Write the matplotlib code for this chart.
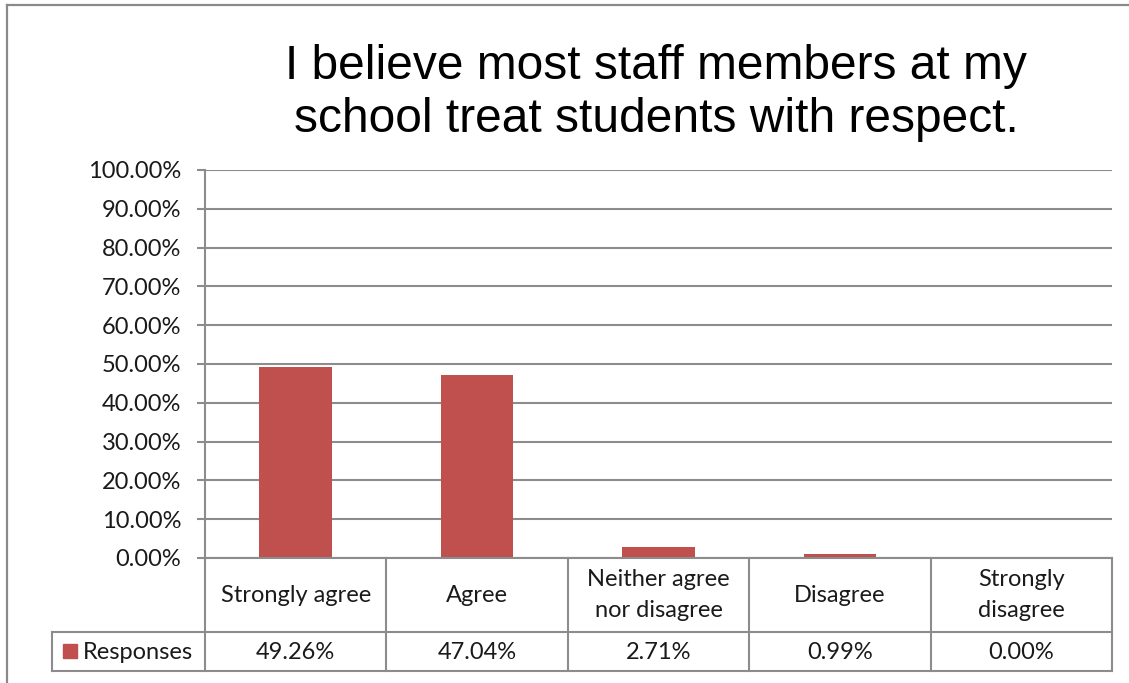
import matplotlib
matplotlib.use("Agg")
import matplotlib.pyplot as plt
from matplotlib.lines import Line2D
from matplotlib.patches import Rectangle

categories = ["Strongly agree", "Agree", "Neither agree\nnor disagree", "Disagree", "Strongly\ndisagree"]
values = [49.26, 47.04, 2.71, 0.99, 0.00]
series_name = "Responses"
yticks = [0, 10, 20, 30, 40, 50, 60, 70, 80, 90, 100]
title = "I believe most staff members at my\nschool treat students with respect."

W, H = 1129, 683
DPI = 100
fig = plt.figure(figsize=(W / DPI, H / DPI), dpi=DPI)
fig.patch.set_facecolor("white")

BAR = "#C0504D"
GRID = "#8C8C8C"
TXT = "#1a1a1a"
tick_font = "Lato"
FS = 17

def fx(px):
    return px / W

def fy(py):
    return 1 - py / H

# outer chart border (cropped at right/bottom)
fig.add_artist(Line2D([fx(7), fx(7)], [fy(5), fy(683)], color="#8a8a8a", lw=1.6, transform=fig.transFigure))
fig.add_artist(Line2D([fx(7), fx(1129)], [fy(5), fy(5)], color="#8a8a8a", lw=1.6, transform=fig.transFigure))

left, right, top, bottom = 205, 1112, 170, 558
ax = fig.add_axes([fx(left), fy(bottom), fx(right - left), (bottom - top) / H])
n = len(categories)
x = list(range(n))
ax.bar(x, values, width=0.40, color=BAR, zorder=3)
ax.set_xlim(-0.5, n - 0.5)
ax.set_ylim(0, 100)
ax.set_yticks(yticks)
ax.set_yticklabels([f"{v:.2f}%" for v in yticks], fontsize=FS, family=tick_font, color=TXT)
ax.tick_params(axis="y", direction="out", length=6, width=1.5, color=GRID, pad=11)
ax.set_xticks([])
for s in ["top", "right", "bottom"]:
    ax.spines[s].set_visible(False)
ax.spines["left"].set_color(GRID)
ax.spines["left"].set_linewidth(1.5)
ax.yaxis.grid(True, color=GRID, lw=1.5, zorder=0)
ax.set_axisbelow(True)

# title
fig.text(fx(656), fy(93), title, ha="center", va="center", fontsize=34.5,
         family="Liberation Sans", color="black", linespacing=1.21)

# data table
row1_top, row1_bot, row2_bot = 558, 632, 671
col_w = (right - left) / n
bounds = [left + i * col_w for i in range(n + 1)]
lk = dict(color=GRID, lw=1.5, transform=fig.transFigure)
fig.add_artist(Line2D([fx(left), fx(right)], [fy(row1_top), fy(row1_top)], **lk))
fig.add_artist(Line2D([fx(52), fx(right)], [fy(row1_bot), fy(row1_bot)], **lk))
fig.add_artist(Line2D([fx(52), fx(right)], [fy(row2_bot), fy(row2_bot)], **lk))
for b in bounds:
    fig.add_artist(Line2D([fx(b), fx(b)], [fy(row1_top), fy(row2_bot)], **lk))
fig.add_artist(Line2D([fx(52), fx(52)], [fy(row1_bot), fy(row2_bot)], **lk))

for i, (c, v) in enumerate(zip(categories, values)):
    cx = (bounds[i] + bounds[i + 1]) / 2
    fig.text(fx(cx), fy((row1_top + row1_bot) / 2), c, ha="center", va="center",
             fontsize=FS, family=tick_font, color=TXT, linespacing=1.55)
    fig.text(fx(cx), fy((row1_bot + row2_bot) / 2 + 1), f"{v:.2f}%", ha="center", va="center",
             fontsize=FS, family=tick_font, color=TXT)

# legend key + series name
fig.add_artist(Rectangle((fx(63), fy(658)), fx(14), 14 / H, color=BAR, transform=fig.transFigure))
fig.text(fx(83), fy((row1_bot + row2_bot) / 2 + 1), series_name, ha="left", va="center",
         fontsize=FS, family=tick_font, color=TXT)

fig.savefig("out.png", dpi=DPI, facecolor="white")
